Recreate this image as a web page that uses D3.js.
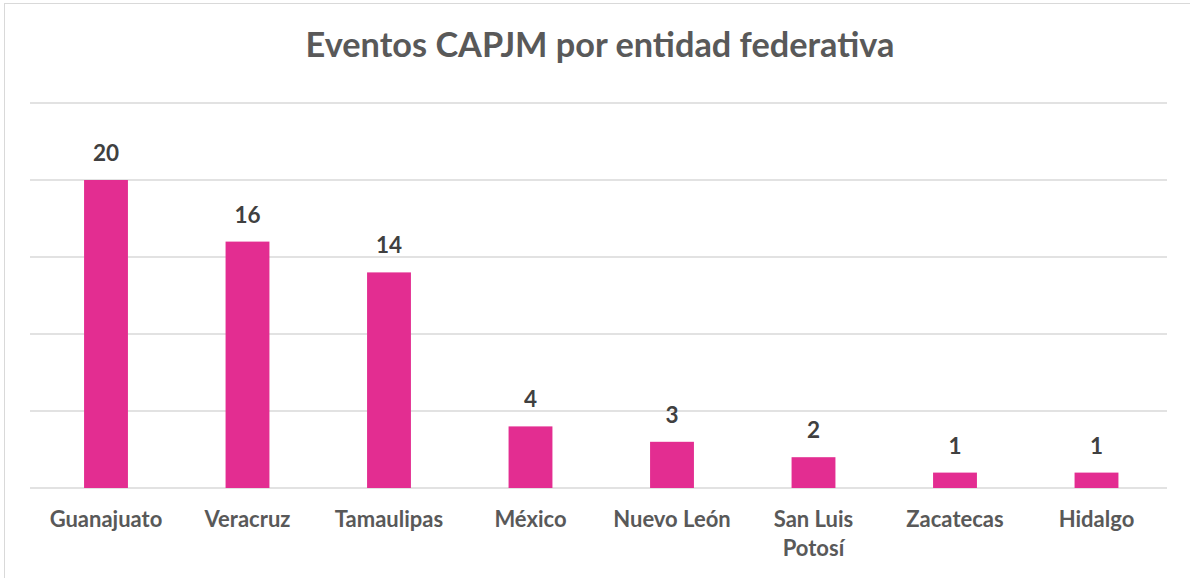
<!DOCTYPE html>
<html><head><meta charset="utf-8">
<script src="https://cdn.jsdelivr.net/npm/d3@7"></script>
<style>body{margin:0;background:#fff}svg{display:block}</style>
</head><body>
<script>
const categories = ["Guanajuato","Veracruz","Tamaulipas","México","Nuevo León","San Luis Potosí","Zacatecas","Hidalgo"];
const values = [20,16,14,4,3,2,1,1];
const yTicks = [0,5,10,15,20,25];
const title = "Eventos CAPJM por entidad federativa";

const W = 1190, H = 578;
const svg = d3.select("body").append("svg").attr("width", W).attr("height", H);
svg.append("rect").attr("x",4.5).attr("y",3.5).attr("width",W+10).attr("height",H+10)
  .attr("fill","#fff").attr("stroke","#d9d9d9").attr("stroke-width",1);

const x = d3.scaleBand().domain(categories).range([35.25,1167.25]).paddingInner(0.69).paddingOuter(0.345);
const y = d3.scaleLinear().domain([0,25]).range([488,103]);

svg.append("g").selectAll("line").data(yTicks).join("line")
  .attr("x1",30).attr("x2",1167).attr("y1",d=>y(d)).attr("y2",d=>y(d))
  .attr("stroke","#d9d9d9").attr("stroke-width",1.5);

svg.append("g").selectAll("rect").data(values).join("rect")
  .attr("x",(d,i)=>x(categories[i])).attr("width",x.bandwidth())
  .attr("y",d=>y(d)).attr("height",d=>y(0)-y(d)).attr("fill","#E32D91");

svg.append("g").selectAll("text").data(values).join("text")
  .attr("x",(d,i)=>x(categories[i])+x.bandwidth()/2).attr("y",d=>y(d)-19)
  .attr("text-anchor","middle").attr("font-family","Lato, 'Open Sans', sans-serif")
  .attr("font-weight","bold").attr("font-size",22.5).attr("fill","#404040").text(d=>d);

const lab = svg.append("g").selectAll("text").data(categories).join("text")
  .attr("x",d=>x(d)+x.bandwidth()/2).attr("y",527)
  .attr("text-anchor","middle").attr("font-family","Lato, 'Open Sans', sans-serif")
  .attr("font-weight","bold").attr("font-size",22).attr("fill","#595959");
lab.each(function(d){
  const t = d3.select(this);
  const lines = d==="San Luis Potosí" ? ["San Luis","Potosí"] : [d];
  lines.forEach((l,i)=>t.append("tspan").attr("x",x(d)+x.bandwidth()/2).attr("dy",i?29:0).text(l));
});

svg.append("text").attr("x",600).attr("y",57).attr("text-anchor","middle")
  .attr("font-family","Lato, 'Open Sans', sans-serif").attr("font-weight","bold")
  .attr("font-size",34.3).attr("fill","#595959").text(title);
</script>
</body></html>
